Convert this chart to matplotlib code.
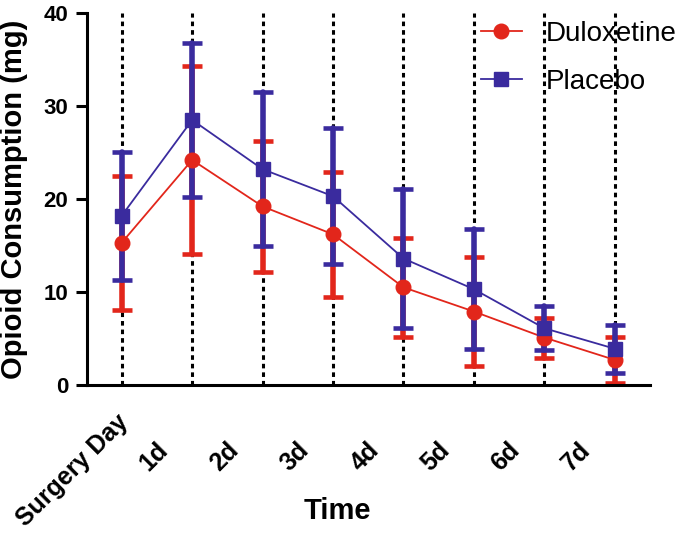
import numpy as np
import matplotlib
matplotlib.use("Agg")
import matplotlib.pyplot as plt
from matplotlib.transforms import blended_transform_factory, ScaledTranslation

plt.rcParams['font.family'] = ['Liberation Sans', 'DejaVu Sans']

# data (mean +/- SD, mg)
days = ["Surgery Day", "1d", "2d", "3d", "4d", "5d", "6d", "7d"]
dulox_mean = [15.3, 24.2, 19.2, 16.2, 10.5, 7.9, 5.1, 2.7]
dulox_sd = [7.2, 10.15, 7.05, 6.7, 5.35, 5.9, 2.15, 2.5]
placebo_mean = [18.2, 28.5, 23.2, 20.3, 13.6, 10.3, 6.1, 3.9]
placebo_sd = [6.9, 8.3, 8.3, 7.3, 7.45, 6.45, 2.35, 2.6]

red = '#e2261b'
blue = '#3a2b9e'

fig = plt.figure(figsize=(6.85, 5.36), dpi=100)
ax = fig.add_axes([86.5 / 685, 1 - 385 / 536, 563.5 / 685, 372 / 536])

x = np.arange(len(days))

# dotted guide lines
for xi in x:
    ax.plot([xi, xi], [0, 40], color='black', lw=2.2, ls=(0, (1.5, 1.3)), zorder=1)

# error bars: red under blue
e1 = ax.errorbar(x, dulox_mean, yerr=dulox_sd, fmt='none', ecolor=red, elinewidth=4,
                 capsize=7, capthick=3.3, zorder=2)
e2 = ax.errorbar(x, placebo_mean, yerr=placebo_sd, fmt='none', ecolor=blue, elinewidth=4,
                 capsize=7, capthick=3.3, zorder=3)
for cont in (e1, e2):
    for c in cont[2]:
        c.set_capstyle('round')

l1, = ax.plot(x, dulox_mean, color=red, lw=1.3, marker='o', ms=10.5, zorder=4, label='Duloxetine')
l2, = ax.plot(x, placebo_mean, color=blue, lw=1.3, marker='s', ms=10, zorder=5, label='Placebo')

ax.set_xlim(-0.5, 7.5)
ax.set_ylim(0, 40)
ax.set_yticks([0, 10, 20, 30, 40])
ax.tick_params(axis='y', length=8, width=2.2, pad=5, labelsize=16)
ax.tick_params(axis='x', length=0)
ax.set_xticks(x)
ax.set_xticklabels([])
for lab in ax.get_yticklabels():
    lab.set_fontweight('bold')

for s in ['top', 'right']:
    ax.spines[s].set_visible(False)
for s in ['left', 'bottom']:
    ax.spines[s].set_linewidth(2.2)

# rotated category labels (Prism places them left of the ticks)
base = blended_transform_factory(ax.transData, ax.transAxes)
for i, name in enumerate(days):
    if i == 0:
        dx, dy = 3, -33
    else:
        dx, dy = -28, -61
    tr = base + ScaledTranslation(dx / 100, dy / 100, fig.dpi_scale_trans)
    ax.text(i, 0, name, transform=tr, rotation=45, rotation_mode='anchor',
            ha='right', va='center', fontsize=18, fontweight='bold')

ax.set_xlabel('Time', fontsize=21, fontweight='bold', va='center')
ax.xaxis.set_label_coords(0.446, -0.339)
ax.set_ylabel('Opioid Consumption (mg)', fontsize=21, fontweight='bold', va='center')
ax.yaxis.set_label_coords(-0.129, 0.5)

ax.legend(handles=[l1, l2], loc='upper left', bbox_to_anchor=(0.70, 0.979), frameon=False,
          fontsize=20, handlelength=1.46, handletextpad=0.86, labelspacing=0.8,
          borderaxespad=0, borderpad=0)

fig.savefig('out.png', dpi=100)
